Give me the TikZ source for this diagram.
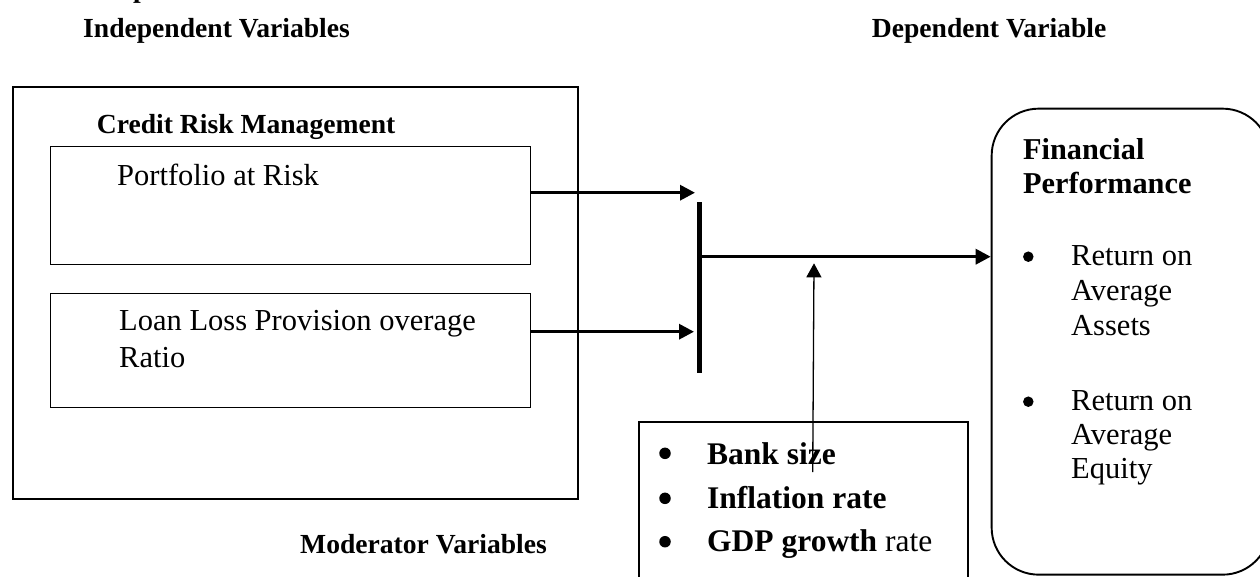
\documentclass[tikz,border=0pt]{standalone}
\usepackage{fontspec}
\setmainfont{Liberation Serif}
\usetikzlibrary{arrows.meta}
\begin{document}
\begin{tikzpicture}[x=1pt,y=-1pt,
  head/.style={font=\fontsize{27.6}{33}\selectfont\bfseries, inner sep=0, anchor=base west},
  body/.style={font=\fontsize{30.5}{36}\selectfont, inner sep=0, anchor=base west},
  fphead/.style={font=\fontsize{30.3}{36}\selectfont\bfseries, inner sep=0, anchor=base west},
  modtxt/.style={font=\fontsize{31.5}{44}\selectfont, inner sep=0, anchor=base west},
  frame/.style={draw, line width=1.9pt, inner sep=0, anchor=north west},
  inbox/.style={draw, line width=1.4pt, inner sep=0, anchor=north west},
  dot/.style={circle, fill=black, inner sep=0, minimum size=#1},
  dot/.default=10.5pt,
  thickarr/.style={line width=3.2pt, -{Triangle[length=15pt,width=15pt]}},
  thinarr/.style={line width=1.3pt, -{Triangle[length=14pt,width=15pt]}},
]
\useasboundingbox (0,0) rectangle (1260,576);

% headings
\node[head] (pfrag) at (133,-2.5) {p};
\node[head] (iv) at (83,37.7) {Independent Variables};
\node[head] (dvl) at (871.7,37.7) {Dependent Variable};

% independent variables
\node[frame, minimum width=565pt, minimum height=412.3pt] (outer) at (11.7,85.7) {};
\node[head] (crm) at (96.7,133) {Credit Risk Management};
\node[inbox, minimum width=480.5pt, minimum height=118.3pt] (par) at (49.5,145.7) {};
\node[body] (part) at (117,185) {Portfolio at Risk};
\node[inbox, minimum width=480.5pt, minimum height=114pt] (llp) at (49.5,292.7) {};
\node[body] (llpa) at (119,330.7) {Loan Loss Provision overage};
\node[body] (llpb) at (119,367) {Ratio};

% junction bar
\node[fill=black, inner sep=0, minimum width=5pt, minimum height=171pt] (bar) at (699,287.2) {};

% moderator
\node[head] (mvl) at (300,553) {Moderator Variables};
\node[frame, minimum width=328.7pt, minimum height=175pt] (mod) at (638,420.7) {};
\node[dot=11.5pt] (mb1) at (665,453.3) {};
\node[modtxt] (mt1) at (707,464) {\bfseries Bank size};
\node[dot=11.5pt] (mb2) at (665,498.3) {};
\node[modtxt] (mt2) at (707,508) {\bfseries Inflation rate};
\node[dot=11.5pt] (mb3) at (665,541.7) {};
\node[modtxt] (mt3) at (707,551.7) {\textbf{GDP growth} rate};

% dependent variable
\node[draw, line width=1.9pt, rounded corners=47pt, inner sep=0, anchor=north west,
      minimum width=278pt, minimum height=466pt] (dv) at (990.7,107.7) {};
\node[fphead] (fp1) at (1023,159) {Financial};
\node[fphead] (fp2) at (1023,193.3) {Performance};
\node[dot] (db1) at (1028.3,256.7) {};
\node[body] (d1a) at (1071,265) {Return on};
\node[body] (d1b) at (1071,300) {Average};
\node[body] (d1c) at (1071,335.7) {Assets};
\node[dot] (db2) at (1028.3,401.7) {};
\node[body] (d2a) at (1071,410) {Return on};
\node[body] (d2b) at (1071,444) {Average};
\node[body] (d2c) at (1071,478) {Equity};

% connectors
\coordinate (a1) at (695,192.7);
\coordinate (a2) at (694,331.7);
\coordinate (o) at (990.7,256.7);
\coordinate (ustart) at (812.7,472);
\coordinate (uend) at (814,263.3);
\draw[thickarr] (par.east |- a1) -- (a1);
\draw[thickarr] (llp.east |- a2) -- (a2);
\draw[thickarr] (bar.east |- o) -- (dv.west |- o);
\draw[thinarr] (ustart) -- (uend);
\end{tikzpicture}
\end{document}
